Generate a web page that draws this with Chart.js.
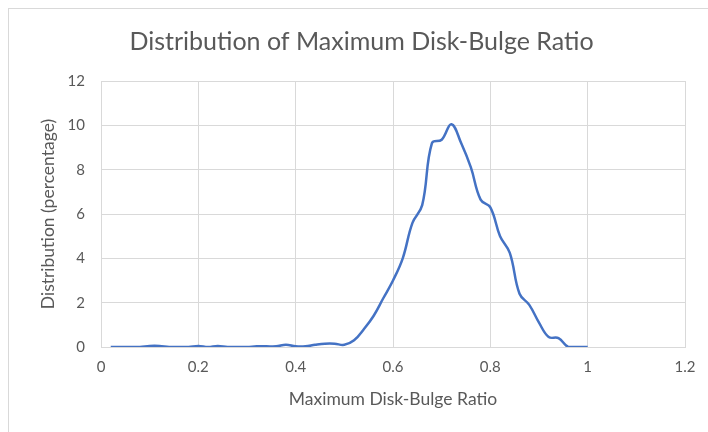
<!DOCTYPE html>
<html>
<head>
<meta charset="utf-8">
<script src="https://cdn.jsdelivr.net/npm/chart.js@4/dist/chart.umd.min.js"></script>
<style>
  html, body { margin: 0; padding: 0; background: #fff; }
  #wrap { position: relative; width: 708px; height: 432px; overflow: hidden; }
  #frame { position: absolute; left: 8px; top: 8px; width: 720px; height: 440px; border: 1px solid #d9d9d9; box-sizing: border-box; }
  canvas { position: absolute; left: 0; top: 0; }
</style>
</head>
<body>
<div id="wrap">
  <div id="frame"></div>
  <canvas id="ratioChart" width="708" height="432"></canvas>
</div>
<script>
// ratio bins (x) and share of samples in percent (y)
const ratios = [0.02, 0.04, 0.06, 0.08, 0.10, 0.12, 0.14, 0.16, 0.18, 0.20,
                0.22, 0.24, 0.26, 0.28, 0.30, 0.32, 0.34, 0.36, 0.38, 0.40,
                0.42, 0.44, 0.46, 0.48, 0.50, 0.52, 0.54, 0.56, 0.58, 0.60,
                0.62, 0.64, 0.66, 0.68, 0.70, 0.72, 0.74, 0.76, 0.78, 0.80,
                0.82, 0.84, 0.86, 0.88, 0.90, 0.92, 0.94, 0.96, 0.98, 1.00];
const percents = [0, 0, 0, 0, 0.05, 0.05, 0, 0, 0, 0.05,
                  0, 0.05, 0, 0, 0, 0.03, 0.03, 0.03, 0.1, 0.03,
                  0.03, 0.1, 0.15, 0.15, 0.1, 0.3, 0.8, 1.4, 2.2, 3.0,
                  4.0, 5.6, 6.4, 9.2, 9.35, 10.05, 9.2, 8.1, 6.65, 6.3,
                  5.0, 4.25, 2.4, 1.9, 1.1, 0.45, 0.4, 0, 0, 0];
const xTicks = [0, 0.2, 0.4, 0.6, 0.8, 1, 1.2];
const xTickLabels = ['0', '0.2', '0.4', '0.6', '0.8', '1', '1.2'];
const yTicks = [0, 2, 4, 6, 8, 10, 12];

const grey = '#595959';
const font = 'Lato, "Open Sans", sans-serif';

const ctx = document.getElementById('ratioChart').getContext('2d');
const chart = new Chart(ctx, {
    type: 'line',
    data: {
        datasets: [{
            label: 'Distribution',
            data: ratios.map((r, i) => ({ x: r, y: percents[i] })),
            borderColor: '#4472C4',
            borderWidth: 2.5,
            pointRadius: 0,
            tension: 0.4,
            fill: false
        }]
    },
    options: {
        responsive: false,
        animation: false,
        layout: { padding: { left: 38, right: 23, top: 0, bottom: 22 } },
        plugins: {
            legend: { display: false },
            tooltip: { enabled: false },
            title: {
                display: true,
                text: 'Distribution of Maximum Disk-Bulge Ratio',
                color: grey,
                font: { family: font, size: 25, weight: 'normal' },
                padding: { top: 27, bottom: 24 }
            }
        },
        scales: {
            x: {
                type: 'linear',
                min: 0, max: 1.2,
                afterBuildTicks: s => { s.ticks = xTicks.map(v => ({ value: v })); },
                afterFit: s => { s.height = 63; },
                grid: { color: '#d9d9d9', lineWidth: 1, drawTicks: false },
                border: { color: '#d9d9d9' },
                ticks: { color: grey, font: { family: font, size: 15 }, padding: 11,
                         callback: (v, i) => xTickLabels[i] },
                title: { display: true, text: 'Maximum Disk-Bulge Ratio', color: grey, font: { family: font, size: 17.5 }, padding: 0 }
            },
            y: {
                min: 0, max: 12,
                afterBuildTicks: s => { s.ticks = yTicks.map(v => ({ value: v })); },
                afterFit: s => { s.width = 63; },
                grid: { color: '#d9d9d9', lineWidth: 1, drawTicks: false },
                border: { display: false },
                ticks: { color: grey, font: { family: font, size: 15 }, padding: 16 },
                title: { display: true, text: 'Distribution (percentage)', color: grey, font: { family: font, size: 17.5 }, padding: 0 }
            }
        }
    }
});
</script>
</body>
</html>
